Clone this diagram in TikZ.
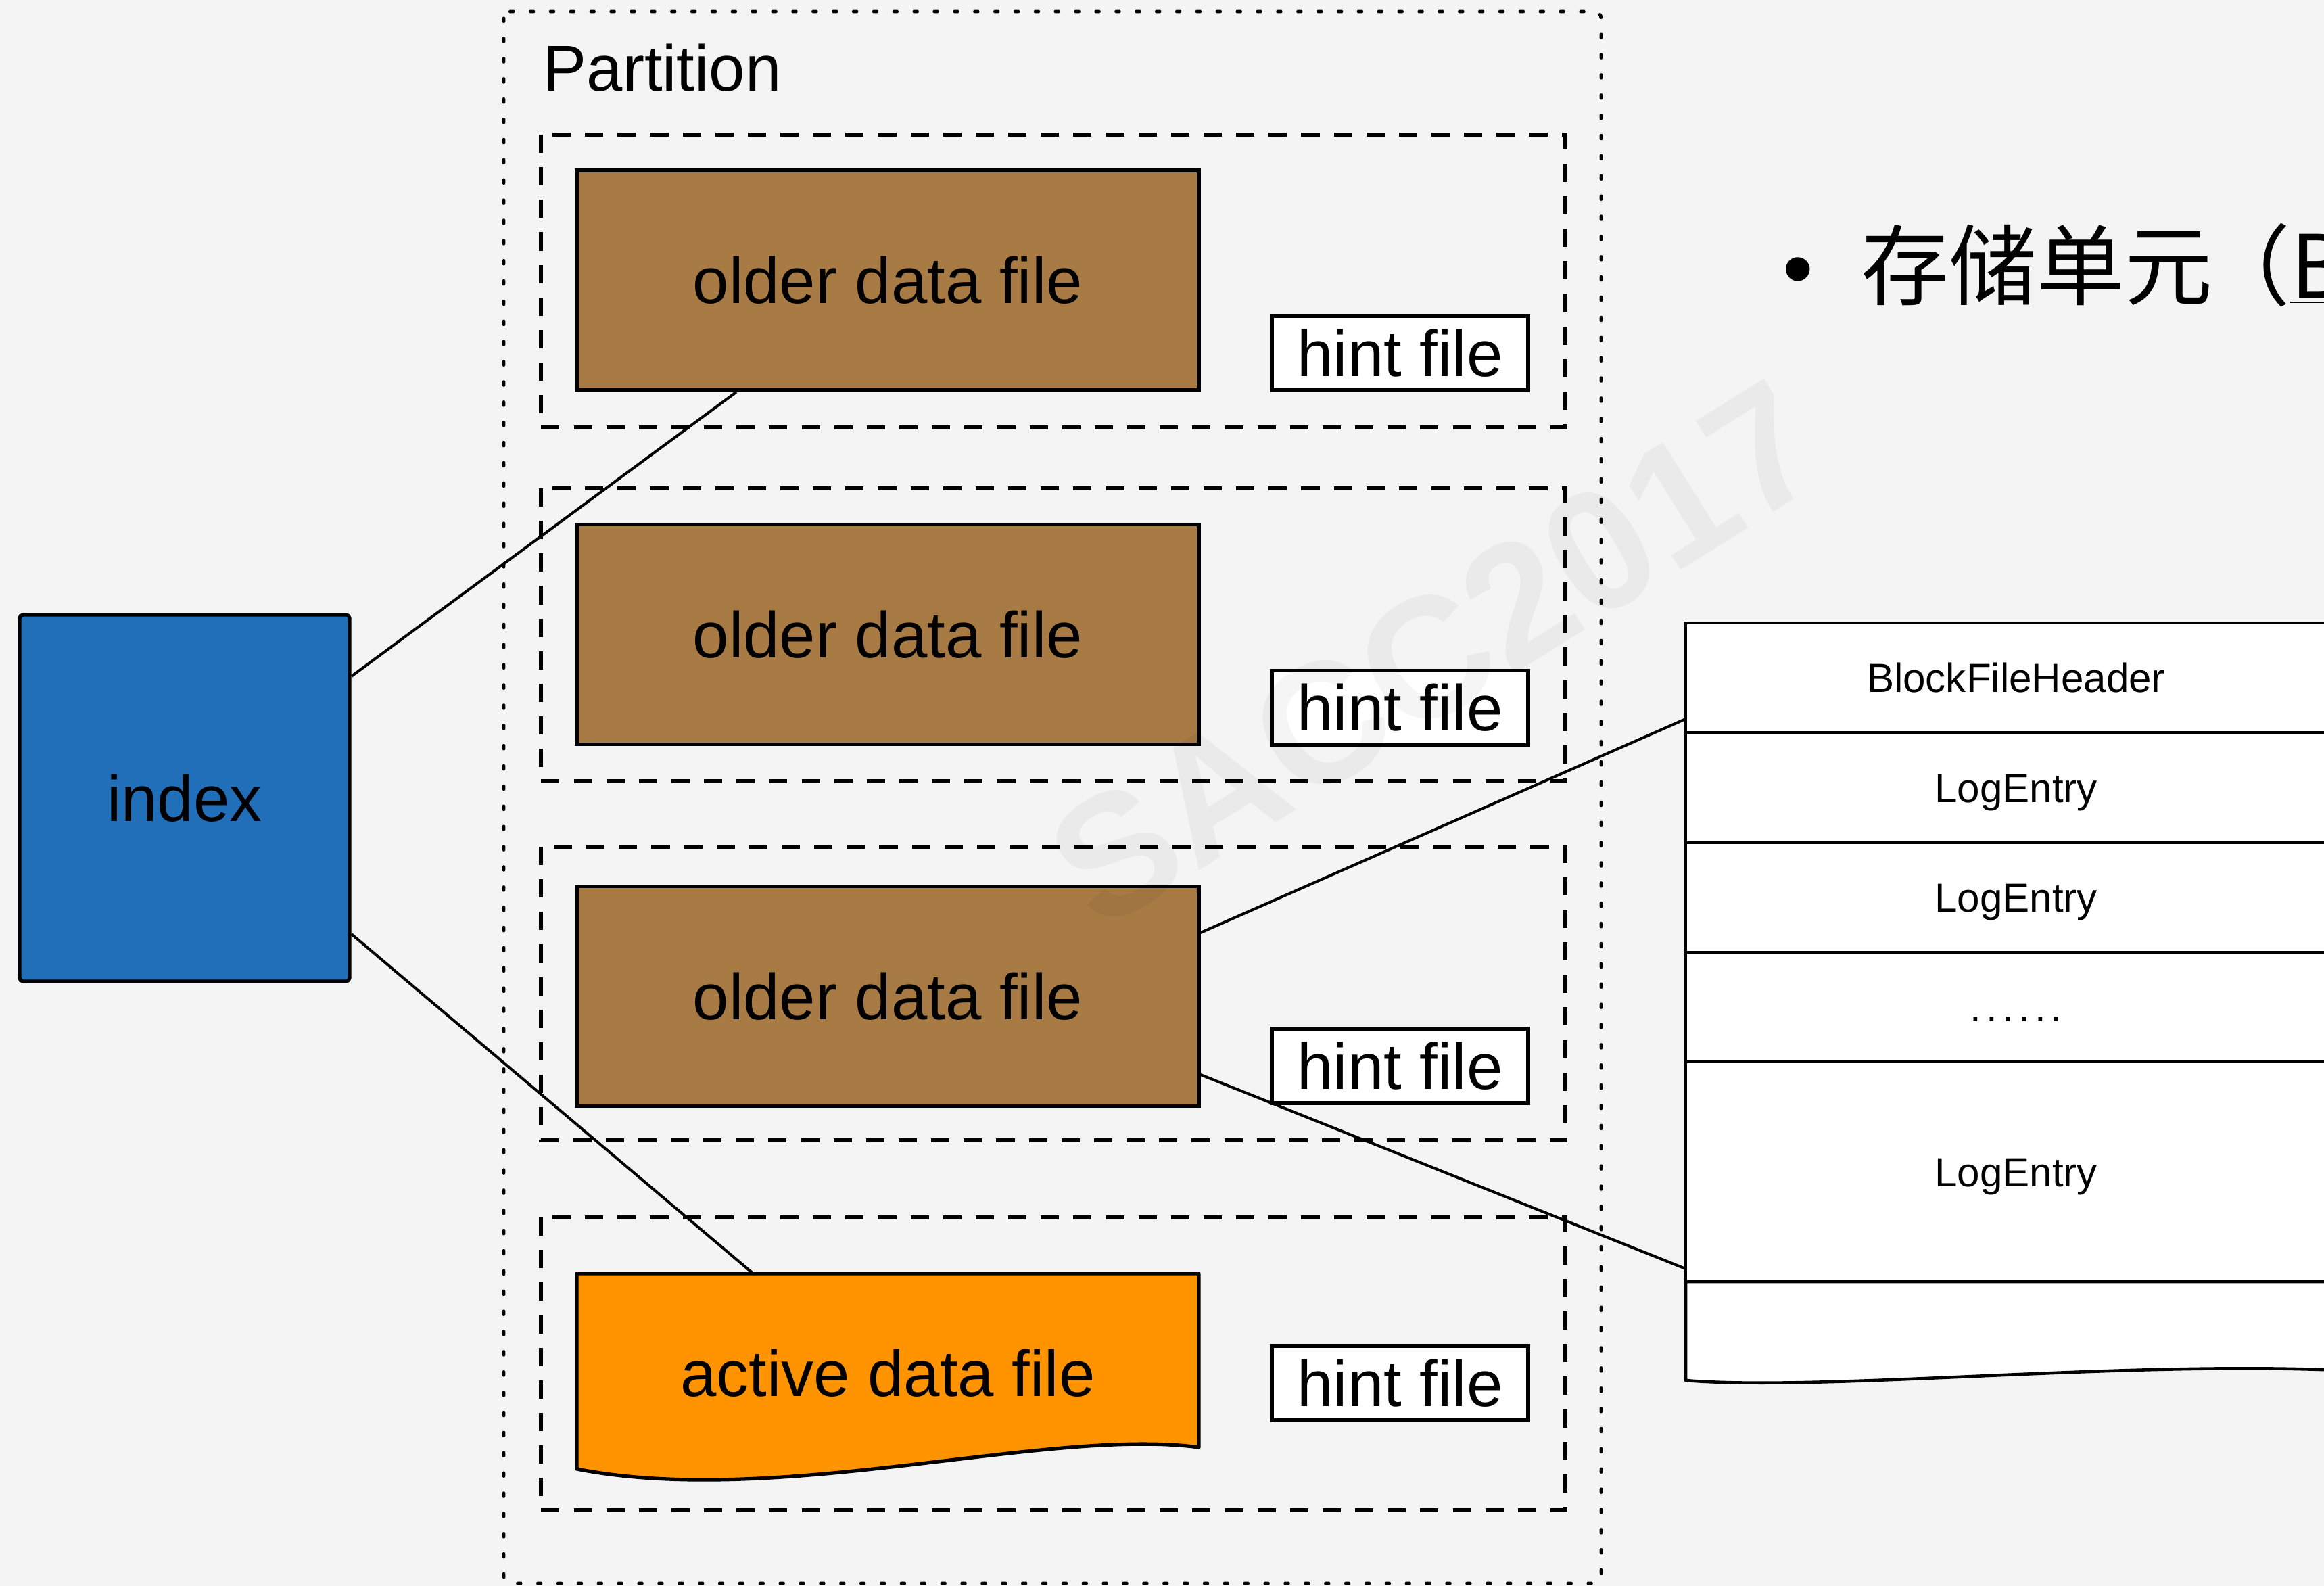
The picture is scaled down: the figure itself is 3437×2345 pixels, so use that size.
\documentclass[tikz,border=0pt]{standalone}
\usepackage{fontspec}
\setmainfont{Liberation Sans}
\newfontfamily\cjkfont{Noto Sans CJK SC}
\usetikzlibrary{calc}

\definecolor{bgcol}{HTML}{F4F4F4}
\definecolor{oldbrown}{HTML}{A87A44}
\definecolor{activeorange}{HTML}{FF9300}
\definecolor{indexblue}{HTML}{226FB9}

\begin{document}
\begin{tikzpicture}[x=0.1mm,y=-0.1mm,
  bigtext/.style={font=\fontsize{27.3}{32}\selectfont},
  filebox/.style={draw=black, line width=1.5pt, inner sep=0pt, bigtext},
  olderfile/.style={filebox, fill=oldbrown, minimum width=92mm, minimum height=32.5mm},
  hintbox/.style={filebox, fill=white, minimum width=37.9mm, minimum height=11mm},
  groupbox/.style={draw=black, line width=1.45pt, dash pattern=on 7.7pt off 6pt},
  partbox/.style={draw=black, line width=1.4pt, line cap=round, dash pattern=on 1.3pt off 7.2pt, rounded corners=1mm},
  link/.style={draw=black, line width=1.15pt},
  tablerow/.style={draw=black, line width=1.3pt, fill=white, minimum width=97.7mm, inner sep=0pt, outer sep=0pt,
    font=\fontsize{17.1}{20}\selectfont, text height=4.3mm, text depth=0mm, anchor=north west},
]
% canvas and page size
\fill[bgcol] (0,0) rectangle (3437,2345);
\useasboundingbox (0,0) rectangle (3437,2345);
\clip (0,0) rectangle (3437,2345);

% partition frame
\draw[partbox] (745,17) rectangle (2368,2341);
\node[anchor=base west, bigtext, inner sep=0pt] (parttitle) at (803,135) {Partition};

% file groups
\draw[groupbox] (800,199) rectangle (2315,632);
\draw[groupbox] (800,722) rectangle (2315,1155);
\draw[groupbox] (800,1252) rectangle (2315,1686);
\draw[groupbox] (800,1800) rectangle (2315,2233);

% data files
\node[olderfile] (old1) at (1313,414.5) {older data file};
\node[olderfile] (old2) at (1313,938) {older data file};
\node[olderfile] (old3) at (1313,1473) {older data file};

\fill[activeorange, draw=black, line width=1.5pt, line join=round]
  (853,1883) -- (1773,1883) -- (1773,2140)
  .. controls (1550,2110) and (1150,2230) .. (853,2172) -- cycle;
\node[bigtext, inner sep=0pt, minimum width=92mm, minimum height=29.4mm] (act) at (1313,2030) {active data file};

% hint files
\node[hintbox] (hint1) at (2070.5,522) {hint file};
\node[hintbox] (hint2) at (2070.5,1046.5) {hint file};
\node[hintbox] (hint3) at (2070.5,1576) {hint file};
\node[hintbox] (hint4) at (2070.5,2045) {hint file};

% index
\node[filebox, fill=indexblue, rounded corners=0.5mm, minimum width=48.8mm, minimum height=54.2mm] (idx) at (273,1180) {index};

% block file layout
\node[tablerow, minimum height=16.2mm] (hdr) at (2493,921) {BlockFileHeader};
\node[tablerow, minimum height=16.3mm] (le1) at (2493,1083) {LogEntry};
\node[tablerow, minimum height=16.2mm] (le2) at (2493,1246) {LogEntry};
\node[tablerow, minimum height=16.2mm] (dots) at (2493,1408) {.\kern0.12em.\kern0.12em.\kern0.12em.\kern0.12em.\kern0.12em.};
\node[tablerow, minimum height=32.5mm] (le3) at (2493,1570) {LogEntry};
\fill[white, draw=black, line width=1.3pt, line join=round]
  (2493,1895) -- (2493,2041)
  .. controls (2700,2058) and (3150,2010) .. (3480,2027) -- (3480,1895) -- cycle;
\draw[line width=1.3pt] (2493,1895) -- (3480,1895);

% connectors
\draw[link] ([yshift=18mm]idx.east) -- ([xshift=-22.4mm]old1.south);
\draw[link] ([yshift=-20.1mm]idx.east) -- ([xshift=-20mm]act.north);
\draw[link] ([yshift=9.4mm]old3.east) -- ([yshift=-6.1mm]hdr.west);
\draw[link] ([yshift=-11.6mm]old3.east) -- ([yshift=-14.35mm]le3.west);

% heading
\node[anchor=base west, inner sep=0pt, font=\fontsize{37}{44}\selectfont] (bullet) at (2636,442) {•};
\node[anchor=base west, inner sep=0pt, font=\cjkfont\fontsize{37}{44}\selectfont] (heading) at (2752,442) {存储单元\kern-0.12em（\underline{B}};

% watermark
\node[rotate=32, font=\fontsize{72}{80}\selectfont\bfseries, text=black, text opacity=0.04] (wm) at (2122,967) {SACC2017};
\end{tikzpicture}
\end{document}
